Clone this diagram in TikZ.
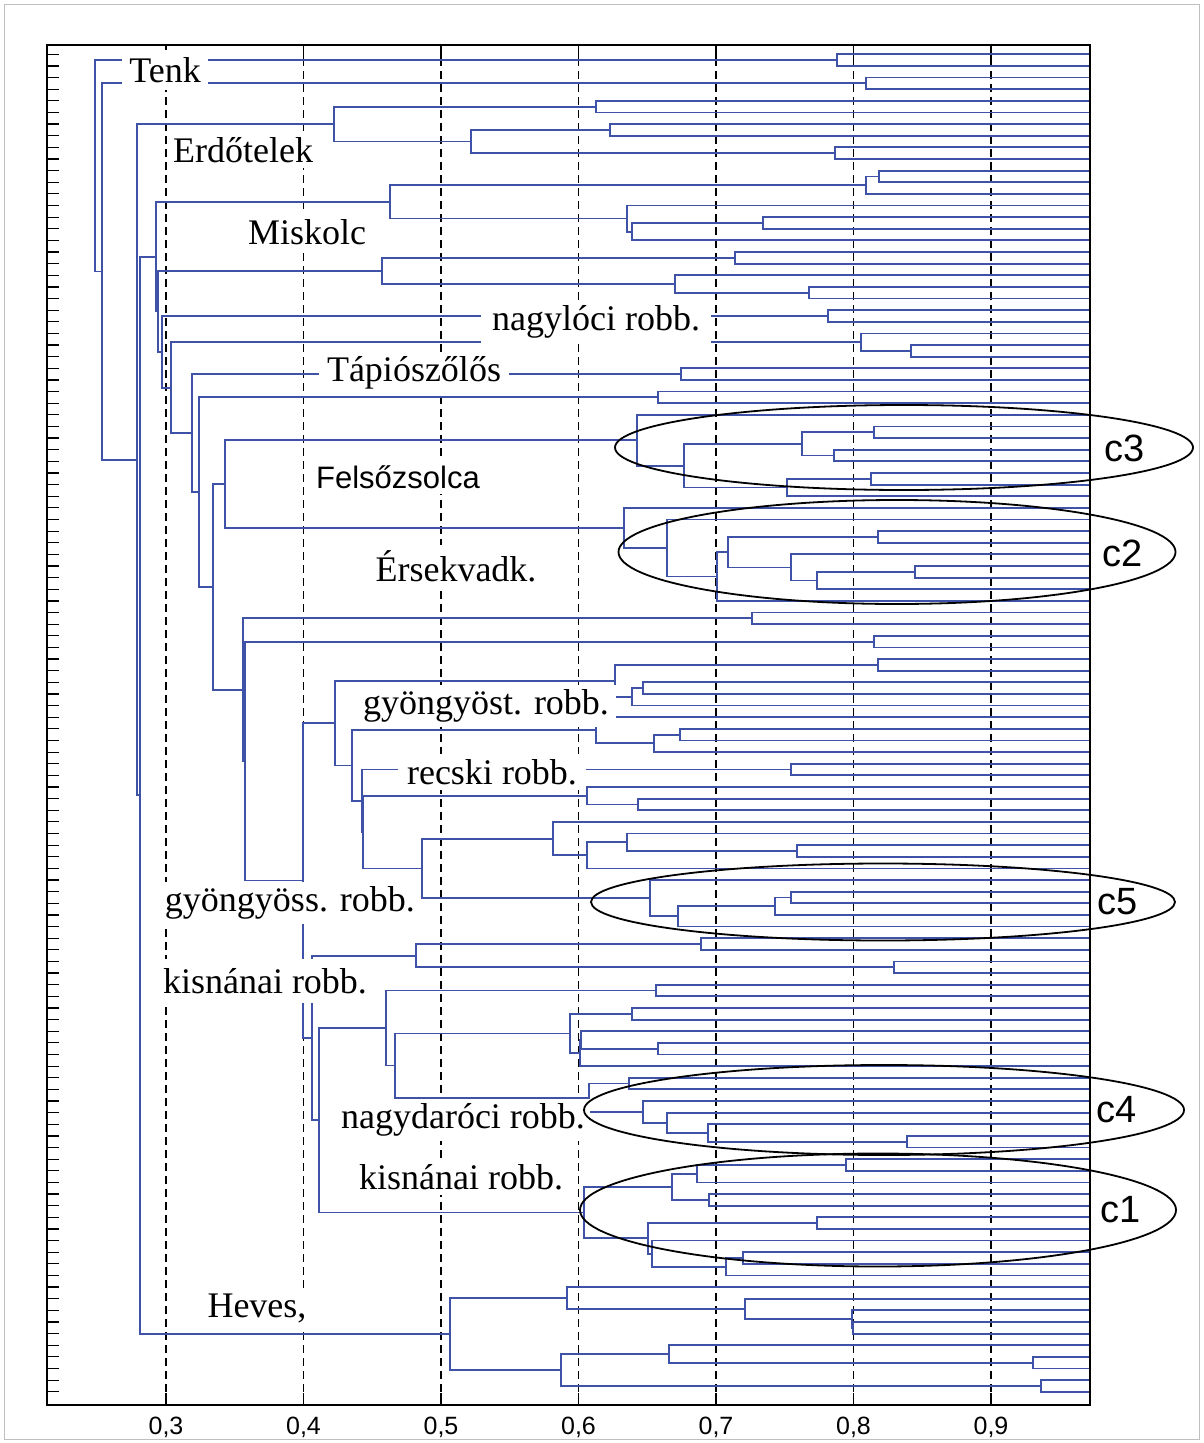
\documentclass[tikz,border=0pt]{standalone}
\usepackage{fontspec}
\setmainfont{Liberation Serif}
\newfontfamily\arialf{Liberation Sans}
\usetikzlibrary{calc}
\usetikzlibrary{shapes.geometric}
\definecolor{dblue}{RGB}{62,82,168}
\tikzstyle{brn}=[draw=dblue,line width=1.8pt]
\tikzstyle{lbl}=[fill=white,inner sep=5pt,font=\fontsize{36}{40}\selectfont]
\tikzstyle{slb}=[fill=white,inner sep=5pt,font=\arialf\fontsize{31}{36}\selectfont]
\tikzstyle{clb}=[inner sep=0pt,font=\arialf\fontsize{38}{40}\selectfont]
\tikzstyle{axl}=[font=\arialf\fontsize{25}{30}\selectfont]
\tikzstyle{grp}=[draw,ellipse,line width=1.8pt,inner sep=0pt]
\tikzstyle{grd}=[line width=1.2pt,dash pattern=on 8pt off 5pt]

\newcommand{\mrg}[4]{%
  \path let \p1=(#3), \p2=(#4) in (#2pt,{0.5*(\y1+\y2)}) coordinate (#1);
  \draw[brn] (#3) -| (#1) |- (#4);}

\begin{document}
\begin{tikzpicture}[x=1pt,y=-1pt]
  \useasboundingbox (0,0) rectangle (1203,1443);
  \draw[gray!50,line width=1pt] (4,4) rectangle (1199,1439);
  \foreach \k in {3,...,9}{
    \draw[grd] ({166+(\k-3)*137.5},45) -- ({166+(\k-3)*137.5},1405);
    \draw[line width=1.3pt] ({166+(\k-3)*137.5},45) -- ++(0,14);
    \draw[line width=1.3pt] ({166+(\k-3)*137.5},1405) -- ++(0,-12);
    \node[axl] (ax\k) at ({166+(\k-3)*137.5},1427) {0,\k};
  }
  \coordinate (fl) at (47,0);
  \foreach \i in {1,...,116}{
    \coordinate (l\i) at (1090,{54.3+(\i-1)*11.63});
    \draw[line width=1.2pt] (fl |- l\i) -- ++(12,0);
  }

  \mrg{a}{837}{l1}{l2}
  \mrg{b}{866}{l3}{l4}
  \mrg{c}{596}{l5}{l6}
  \mrg{d}{610}{l7}{l8}
  \mrg{e}{835}{l9}{l10}
  \mrg{f}{471}{d}{e}
  \mrg{erd}{334}{c}{f}
  \mrg{h}{879}{l11}{l12}
  \mrg{hh}{866}{h}{l13}
  \mrg{j}{763}{l15}{l16}
  \mrg{k}{632}{j}{l17}
  \mrg{kk}{627}{l14}{k}
  \mrg{misk}{390}{hh}{kk}
  \mrg{n}{735}{l18}{l19}
  \mrg{o}{809}{l21}{l22}
  \mrg{p}{675}{l20}{o}
  \mrg{q}{382}{n}{p}
  \mrg{nagy}{828}{l23}{l24}
  \mrg{v}{911}{l26}{l27}
  \mrg{vv}{861}{l25}{v}
  \mrg{tap}{681}{l28}{l29}
  \mrg{w}{658}{l30}{l31}

  \mrg{fa}{874}{l33}{l34}
  \mrg{fb}{834}{l35}{l36}
  \mrg{fc}{802}{fa}{fb}
  \mrg{fd}{871}{l37}{l38}
  \mrg{fe}{787}{fd}{l39}
  \mrg{ff}{684}{fc}{fe}
  \mrg{fels}{637}{l32}{ff}
  \mrg{ea}{878}{l42}{l43}
  \mrg{eb}{915}{l45}{l46}
  \mrg{ec}{817}{eb}{l47}
  \mrg{ed}{791}{l44}{ec}
  \mrg{ee}{728}{ea}{ed}
  \mrg{ef}{717}{ee}{l48}
  \mrg{eg}{667}{l41}{ef}
  \mrg{ers}{624}{l40}{eg}
  \mrg{fz}{225}{fels}{ers}

  \mrg{ga}{752}{l49}{l50}
  \mrg{gb}{874}{l51}{l52}
  \mrg{gc}{878}{l53}{l54}
  \mrg{gd}{643}{l55}{l56}
  \mrg{ge}{632}{gd}{l57}
  \mrg{gf}{615}{gc}{ge}
  \mrg{gg}{680}{l59}{l60}
  \mrg{gh}{654}{gg}{l61}
  \mrg{gi}{596}{l58}{gh}
  \mrg{rec}{791}{l62}{l63}
  \mrg{gj}{638}{l65}{l66}
  \mrg{gk}{587}{l64}{gj}
  \mrg{ka}{797}{l69}{l70}
  \mrg{kb}{627}{l68}{ka}
  \mrg{kc}{587}{kb}{l71}
  \mrg{kd}{553}{l67}{kc}
  \mrg{c5a}{791}{l73}{l74}
  \mrg{c5b}{775}{c5a}{l75}
  \mrg{c5c}{678}{c5b}{l76}
  \mrg{c5d}{650}{l72}{c5c}
  \mrg{ke}{422}{kd}{c5d}
  \mrg{gl}{363}{gk}{ke}
  \mrg{gm}{362}{rec}{gl}
  \mrg{gn}{352}{gi}{gm}
  \mrg{gyt}{335}{gf}{gn}

  \mrg{ha}{701}{l77}{l78}
  \mrg{hb}{894}{l79}{l80}
  \mrg{hc}{416}{ha}{hb}
  \mrg{ma}{656}{l81}{l82}
  \mrg{mb}{632}{l83}{l84}
  \mrg{mc}{658}{l86}{l87}
  \mrg{md}{581}{l85}{mc}
  \mrg{me}{580}{md}{l88}
  \mrg{mf}{570}{mb}{me}
  \mrg{c4a}{629}{l89}{l90}
  \mrg{c4b}{907}{l94}{l95}
  \mrg{c4c}{708}{l93}{c4b}
  \mrg{c4d}{667}{l92}{c4c}
  \mrg{c4e}{643}{l91}{c4d}
  \mrg{c4f}{589}{c4a}{c4e}
  \mrg{mg}{395}{mf}{c4f}
  \mrg{mh}{386}{ma}{mg}
  \mrg{c1a}{846}{l96}{l97}
  \mrg{c1b}{697}{c1a}{l98}
  \mrg{c1c}{709}{l99}{l100}
  \mrg{c1d}{672}{c1b}{c1c}
  \mrg{c1e}{817}{l101}{l102}
  \mrg{c1f}{743}{l104}{l105}
  \mrg{c1g}{726}{c1f}{l106}
  \mrg{c1h}{652}{l103}{c1g}
  \mrg{c1i}{648}{c1e}{c1h}
  \mrg{c1j}{584}{c1d}{c1i}
  \mrg{mi}{319}{mh}{c1j}
  \mrg{mj}{312}{hc}{mi}
  \mrg{gys}{303}{gyt}{mj}
  \mrg{qa}{245}{gb}{gys}
  \mrg{qb}{243}{ga}{qa}
  \mrg{xa}{213}{fz}{qb}
  \mrg{xb}{199}{w}{xa}
  \mrg{xc}{192}{tap}{xb}
  \mrg{xd}{171}{vv}{xc}
  \mrg{xe}{162}{nagy}{xd}
  \mrg{r1}{158}{q}{xe}
  \mrg{r2}{156}{misk}{r1}

  \mrg{hva}{853}{l110}{l111}
  \mrg{hvb}{852}{l109}{hva}
  \mrg{hvc}{745}{l108}{hvb}
  \mrg{hvd}{567}{l107}{hvc}
  \mrg{hve}{1033}{l113}{l114}
  \mrg{hvf}{669}{l112}{hve}
  \mrg{hvg}{1041}{l115}{l116}
  \mrg{hvh}{561}{hvf}{hvg}
  \mrg{hev}{450}{hvd}{hvh}
  \mrg{t0}{140}{r2}{hev}
  \mrg{t1}{137}{erd}{t0}
  \mrg{u}{102}{b}{t1}
  \mrg{root}{95}{a}{u}

  \node[lbl,inner sep=7pt] (tTenk) at (165,70) {Tenk};
  \node[lbl] (tErdo) at (243,150) {Erdőtelek};
  \node[lbl] (tMisk) at (307,232) {Miskolc};
  \node[lbl,inner xsep=11pt] (tNagy) at (596,322) {nagylóci robb.};
  \node[lbl,inner xsep=8pt] (tTap) at (414,373) {Tápiószőlős};
  \node[slb] (tFels) at (398,477) {Felsőzsolca};
  \node[lbl] (tErs) at (456,566) {Érsekvadk.};
  \node[lbl,inner xsep=7pt] (tGyt) at (486,706) {gyöngyöst. robb.};
  \node[lbl,inner xsep=9pt] (tRec) at (492,772) {recski robb.};
  \node[lbl] (tGys) at (290,903) {gyöngyöss. robb.};
  \node[lbl,inner ysep=9pt] (tKis) at (265,981) {kisnánai robb.};
  \node[lbl] (tNagyd) at (463,1120) {nagydaróci robb.};
  \node[lbl] (tKis2) at (461,1177) {kisnánai robb.};
  \node[lbl] (tHev) at (257,1308) {Heves,};

  \node[grp,minimum width=578pt,minimum height=85pt] (e3) at (904,447.5) {};
  \node[grp,minimum width=557pt,minimum height=104pt] (e2) at (897,552) {};
  \node[grp,minimum width=584pt,minimum height=77pt] (e5) at (883,902) {};
  \node[grp,minimum width=600pt,minimum height=90pt] (e4) at (884,1110) {};
  \node[grp,minimum width=596pt,minimum height=113pt] (e1) at (878,1210) {};
  \node[clb] (c3) at (1125,448) {c3};
  \node[clb] (c2) at (1123,553) {c2};
  \node[clb] (c5) at (1118,902) {c5};
  \node[clb] (c4) at (1117,1110) {c4};
  \node[clb] (c1) at (1121,1210) {c1};

  \draw[line width=2pt] (47,45) rectangle (1090,1405);
\end{tikzpicture}
\end{document}
